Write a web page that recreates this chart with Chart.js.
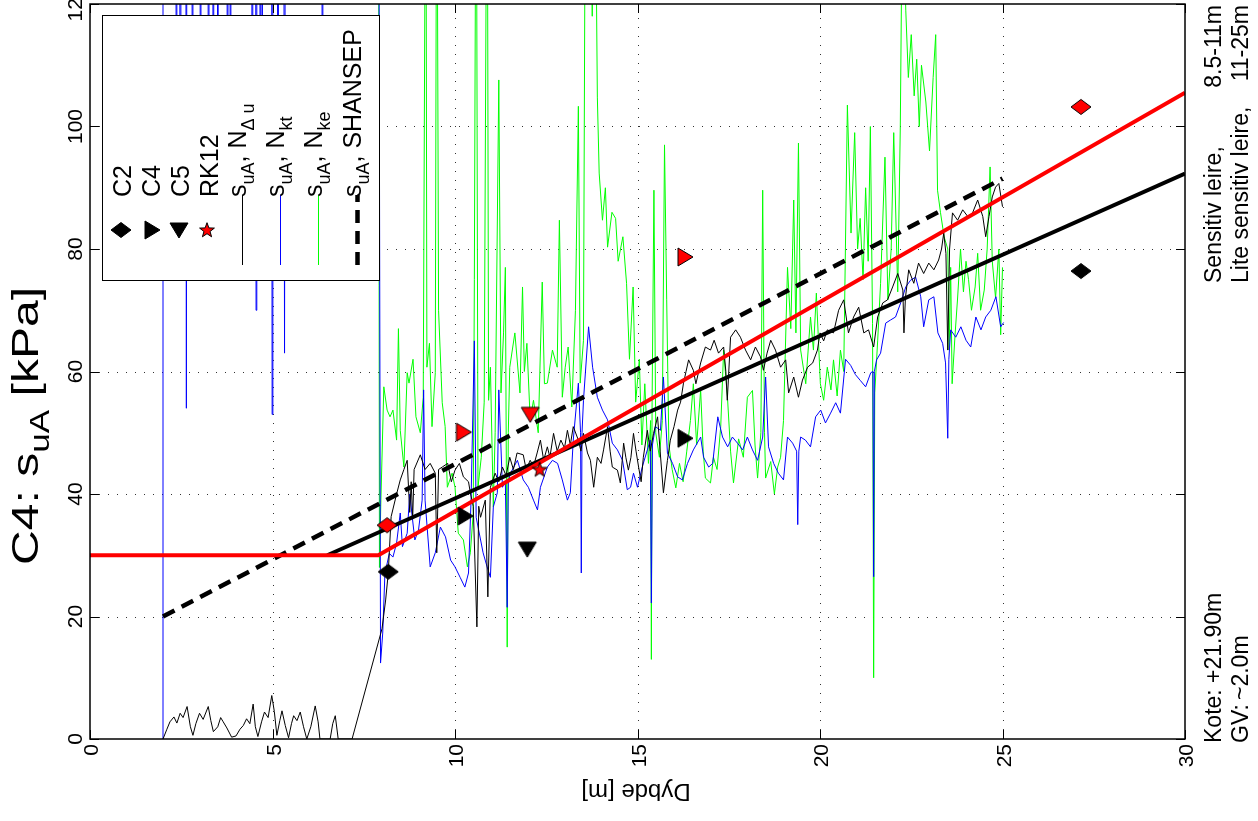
<!DOCTYPE html>
<html>
<head>
<meta charset="utf-8">
<script src="https://cdn.jsdelivr.net/npm/chart.js@4.4.1/dist/chart.umd.min.js"></script>
<style>
  html, body { margin: 0; padding: 0; background: #fff; }
  #wrap { width: 1258px; height: 821px; }
</style>
</head>
<body>
<div id="wrap"><canvas id="c" width="1258" height="821"></canvas></div>
<script>
// akser
const xTicks = [0, 5, 10, 15, 20, 25, 30];
const xTickLabels = ['0', '5', '10', '15', '20', '25', '30'];
const yTicks = [0, 20, 40, 60, 80, 100, 120];
const yTickLabels = ['0', '20', '40', '60', '80', '100', '120'];

// s_uA, N_du  [dybde, kPa]
const nduPoints = [[2.0,0],[2.1,1.5],[2.19,2.8],[2.3,3.6],[2.38,2.6],[2.47,4.2],[2.55,3.5],[2.66,5.3],[2.75,2.0],[2.82,0.6],[2.9,2.5],[3.0,4.2],[3.1,3.2],[3.24,5.3],[3.31,3.0],[3.38,1.2],[3.5,2.0],[3.58,3.5],[3.65,2.8],[3.75,1.8],[3.88,0.3],[4.0,0.5],[4.11,1.6],[4.2,2.2],[4.29,3.3],[4.38,2.5],[4.47,5.7],[4.53,2.0],[4.6,0.4],[4.7,2.8],[4.78,4.4],[4.88,3.5],[4.98,7.1],[5.05,4.5],[5.12,0.6],[5.2,3.0],[5.26,4.6],[5.35,2.2],[5.44,0.2],[5.52,2.5],[5.58,3.8],[5.67,3.0],[5.76,4.4],[5.85,2.0],[5.94,0],[6.05,2.0],[6.17,5.4],[6.25,2.8],[6.3,0],[6.58,0],[6.65,2.5],[6.72,3.8],[6.8,0],[7.18,0],[8.0,18],[8.1,22.7],[8.17,27],[8.25,36.3],[8.4,40],[8.5,42.3],[8.6,44],[8.69,45.5],[8.76,37],[8.8,42],[8.84,36],[8.88,44],[9.05,46.4],[9.18,44],[9.32,45],[9.46,43.4],[9.5,30.4],[9.55,44],[9.65,44.4],[9.8,45],[9.9,42],[10.0,43.9],[10.12,45],[10.23,42.8],[10.37,42],[10.42,40.2],[10.5,38],[10.6,18.3],[10.65,38],[10.7,36.2],[10.83,39],[10.9,23.2],[10.97,41.1],[11.1,43.4],[11.2,42],[11.3,44.4],[11.4,43],[11.5,46],[11.6,44],[11.7,46.7],[11.87,46.4],[11.95,44],[12.06,45.5],[12.15,44.5],[12.25,46.7],[12.34,48.8],[12.43,45.5],[12.53,47.7],[12.6,46],[12.7,49.9],[12.8,47],[12.9,48.8],[13.0,47.5],[13.08,50.4],[13.16,48],[13.24,51],[13.38,48.8],[13.45,47],[13.52,49.9],[13.63,46.7],[13.71,45.5],[13.8,41.1],[13.9,46],[14.0,45],[14.07,47.2],[14.18,51],[14.25,47],[14.31,44.4],[14.45,43.9],[14.53,41.8],[14.62,48.3],[14.68,46],[14.75,43.9],[14.82,46],[14.89,49.9],[14.96,47],[15.03,44.4],[15.1,42],[15.16,46],[15.27,50.4],[15.35,47],[15.44,49.9],[15.55,52.6],[15.62,47],[15.71,40.2],[15.82,45.5],[15.9,48.8],[16.0,51],[16.1,53.7],[16.18,55],[16.26,58.1],[16.33,60],[16.4,61.9],[16.53,60.2],[16.6,58],[16.73,61.4],[16.86,64],[17.0,63.5],[17.1,65.1],[17.22,63],[17.36,64],[17.42,60],[17.46,55.3],[17.55,65.6],[17.69,66.8],[17.82,65.6],[17.96,63.5],[18.1,61.9],[18.23,64],[18.37,62.4],[18.45,60.2],[18.55,63],[18.65,65.1],[18.78,63.5],[18.92,60.7],[19.06,61.9],[19.14,56.5],[19.28,59.1],[19.41,55.8],[19.52,58.6],[19.66,60.7],[19.8,61.4],[19.93,63.5],[20.0,66.3],[20.1,65],[20.2,66.8],[20.37,66.3],[20.51,70],[20.65,71.7],[20.78,66.3],[20.92,68.9],[21.06,70.5],[21.2,66.3],[21.33,66.8],[21.47,64],[21.58,68.9],[21.72,71.2],[21.85,71.7],[21.99,73.8],[22.13,76],[22.27,73.3],[22.3,66.3],[22.34,72],[22.43,76.6],[22.57,74.4],[22.7,77.7],[22.84,76],[22.98,77.7],[23.12,76.6],[23.25,78.2],[23.33,80],[23.39,82.6],[23.45,79.3],[23.5,63.5],[23.55,80],[23.63,85.9],[23.77,84.7],[23.91,86.4],[24.05,85.3],[24.18,85.9],[24.32,88],[24.46,85.3],[24.54,82],[24.63,85.3],[24.72,88.5],[24.81,90.1],[24.9,90.7],[25.0,86.9]];

// s_uA, N_kt
const nktPoints = [[2.0,0],[2.0,180],[2.34,180],[2.36,112],[2.38,180],[2.45,180],[2.47,77],[2.49,180],[2.62,180],[2.64,54],[2.66,180],[2.78,180],[2.8,110],[2.82,180],[3.0,180],[3.02,113],[3.04,180],[3.22,180],[3.24,108],[3.26,180],[3.35,180],[3.37,112],[3.39,180],[3.48,180],[3.5,115],[3.52,180],[3.74,180],[3.76,110],[3.78,180],[3.82,180],[3.84,114],[3.86,180],[4.42,180],[4.44,100],[4.46,180],[4.53,180],[4.55,70],[4.57,180],[4.64,180],[4.66,108],[4.68,180],[4.7,180],[4.72,112],[4.74,180],[4.97,180],[4.99,53],[5.01,180],[5.13,180],[5.15,110],[5.17,180],[5.3,180],[5.33,63],[5.36,180],[6.34,180],[6.36,112],[6.38,180],[7.9,180],[7.96,12.4],[8.02,17.3],[8.08,27],[8.2,30.3],[8.3,29.7],[8.4,32],[8.5,36.9],[8.56,31.4],[8.69,33.6],[8.76,40],[8.83,36.2],[8.9,32.5],[9.0,34.1],[9.1,39],[9.14,57],[9.18,39],[9.32,28.1],[9.46,30.4],[9.6,34.6],[9.74,33],[9.88,29.2],[10.0,28.1],[10.14,26.4],[10.27,24.8],[10.37,27.1],[10.44,39],[10.53,65],[10.58,36.2],[10.77,30.4],[10.88,28.1],[10.97,26.4],[11.05,37.9],[11.16,40.2],[11.2,57],[11.3,41.1],[11.38,42],[11.43,21.5],[11.46,42],[11.52,43.4],[11.71,45.5],[11.87,42.3],[12.01,41.1],[12.15,39],[12.26,37.4],[12.34,41.1],[12.53,44.4],[12.67,45.5],[12.81,45],[12.94,42.3],[13.08,39],[13.16,40.2],[13.24,48.8],[13.38,58.1],[13.44,50],[13.46,27.1],[13.48,50],[13.52,55.3],[13.66,67.3],[13.77,60.7],[13.9,55.8],[14.04,53.7],[14.18,52.1],[14.31,48.3],[14.45,47.2],[14.59,45.5],[14.72,40.7],[14.81,41.1],[14.89,43.4],[15.0,41.1],[15.13,44.4],[15.27,47.2],[15.35,48.8],[15.38,22.2],[15.41,48],[15.49,51],[15.63,50.4],[15.71,59.1],[15.82,46.7],[15.96,45],[16.1,42.8],[16.23,42.3],[16.37,45],[16.53,47.2],[16.73,49.3],[16.81,46],[16.95,44.4],[17.06,45],[17.2,52.6],[17.33,49.3],[17.47,47.7],[17.6,49.3],[17.74,48.3],[17.88,47.2],[18.01,49.3],[18.15,47.2],[18.29,45.5],[18.43,49.3],[18.51,59.1],[18.59,47.7],[18.73,45],[18.86,43.4],[19.0,42.3],[19.11,49.3],[19.25,48.3],[19.36,47],[19.39,35],[19.42,47],[19.47,49.3],[19.6,48.8],[19.74,47.7],[19.88,52.6],[20.02,53.7],[20.15,51.6],[20.29,53.2],[20.43,54.9],[20.56,53.2],[20.7,62],[20.84,61],[20.97,59.5],[21.11,58.5],[21.25,57.5],[21.39,59.8],[21.45,60],[21.47,26.5],[21.49,60],[21.55,61.9],[21.66,63],[21.8,67.9],[21.93,68.4],[22.07,68.9],[22.21,71.2],[22.35,73.8],[22.48,74.9],[22.62,75.4],[22.76,72.2],[22.84,67.3],[22.98,71.7],[23.12,72.2],[23.23,66.3],[23.36,64.6],[23.44,61.4],[23.5,49.1],[23.53,62],[23.58,66.8],[23.72,65.6],[23.86,67.3],[24.0,65.1],[24.13,64],[24.27,68.9],[24.41,66.8],[24.54,68.9],[24.68,70],[24.82,72.2],[24.95,67.3],[25.03,68]];

// s_uA, N_ke
const nkePoints = [[7.9,180],[7.93,28],[7.97,39],[8.05,57.5],[8.14,53.7],[8.22,52.6],[8.3,53.7],[8.4,48.8],[8.45,67],[8.5,50.4],[8.6,44.4],[8.69,59.8],[8.74,58.1],[8.85,62],[8.93,52.6],[9.05,50],[9.13,55.8],[9.2,160],[9.23,60.7],[9.3,64.6],[9.37,51],[9.46,59.8],[9.5,160],[9.55,70],[9.65,54.9],[9.73,51],[9.79,41.1],[9.92,43.4],[10.0,41.1],[10.09,33.6],[10.23,32.5],[10.34,28.1],[10.42,30.4],[10.5,36.9],[10.53,75],[10.58,160],[10.63,41.1],[10.72,46],[10.8,55],[10.88,160],[10.92,55.3],[10.97,60.7],[11.05,37.9],[11.1,50],[11.2,107.6],[11.26,56.5],[11.33,66.3],[11.38,77],[11.41,40],[11.43,15],[11.46,50],[11.5,60.7],[11.64,66.3],[11.78,56.5],[11.85,73.8],[11.9,60],[11.97,64.6],[12.06,52.1],[12.15,55.3],[12.28,50],[12.39,74.6],[12.45,58],[12.53,58.1],[12.67,63.5],[12.8,60.7],[12.86,84.7],[12.94,55.8],[13.02,60.7],[13.1,64],[13.2,54.2],[13.3,70],[13.38,103.3],[13.43,58.1],[13.52,65.1],[13.58,160],[13.64,125],[13.7,160],[13.76,118],[13.82,160],[13.9,104.8],[13.95,92.4],[14.04,84.7],[14.12,90],[14.18,80.3],[14.3,86],[14.4,85],[14.47,78],[14.6,82],[14.7,74.4],[14.78,62],[14.88,73.8],[14.95,55],[15.05,62],[15.12,48],[15.2,58],[15.3,45],[15.36,52],[15.38,13],[15.4,55],[15.45,89.6],[15.5,50],[15.6,46],[15.68,52],[15.74,97],[15.8,71.7],[15.86,48],[15.95,44],[16.05,41],[16.15,45],[16.25,42],[16.35,47],[16.45,52],[16.53,58],[16.62,48],[16.73,57],[16.8,47],[16.86,42.6],[17.0,41.8],[17.08,46],[17.18,44],[17.28,51],[17.36,63.5],[17.47,55.3],[17.55,47],[17.63,41.8],[17.77,49],[17.9,46],[18.01,55.8],[18.15,56.9],[18.22,48],[18.29,42.6],[18.38,50],[18.43,89.6],[18.48,50],[18.51,42.6],[18.65,45.3],[18.75,40],[18.84,44.4],[18.92,46],[19.0,52],[19.11,77],[19.2,67],[19.28,88],[19.34,66.3],[19.41,97.3],[19.47,63.5],[19.61,58],[19.74,68.9],[19.82,63.5],[19.9,72.8],[20.01,58],[20.1,55.3],[20.2,60.7],[20.3,57],[20.37,61.9],[20.47,56],[20.56,63.5],[20.65,60],[20.75,103.5],[20.85,82.6],[20.95,99],[21.03,80],[21.1,85],[21.18,75],[21.25,90],[21.32,78],[21.38,100],[21.44,67.8],[21.47,10],[21.5,56.5],[21.58,65],[21.66,74.4],[21.78,95],[21.86,71.7],[21.95,80],[22.02,99],[22.13,73],[22.2,100],[22.26,140],[22.35,119],[22.42,108],[22.5,115],[22.58,105],[22.65,111],[22.72,100],[22.78,110],[22.9,104],[23.0,96],[23.1,108],[23.17,115],[23.22,89.6],[23.3,86],[23.4,82],[23.5,80],[23.54,63.5],[23.58,77],[23.62,58],[23.7,66],[23.77,72],[23.85,80],[23.93,73],[24.0,78],[24.07,75],[24.15,70],[24.25,73.8],[24.32,79.3],[24.4,70],[24.5,73.3],[24.58,80],[24.66,93.4],[24.72,78],[24.81,72],[24.9,80],[24.95,66],[25.0,77]];

// tilpassede linjer
const redLine = [[0,30],[7.9,30],[30,105.5]];
const blackLine = [[6.5,30],[30,92.3]];
const shansepLine = [[2.0,20],[25.0,91.5]];

// laboratorieverdier
const c2Black = [[8.17,27.3],[27.15,76.4]];
const c2Red = [[8.14,34.9],[27.15,103.2]];
const c4Black = [[10.28,36.4],[16.3,49.1]];
const c4Red = [[10.23,50.1],[16.3,78.7]];
const c5Black = [[11.98,31]];
const c5Red = [[12.06,53]];
const rk12 = [[12.32,44]];

const FONT = '"Liberation Sans", Arial, Helvetica, sans-serif';
const toXY = arr => arr.map(p => ({ x: p[0], y: p[1] }));

function makeMarker(shape, fill) {
    const c = document.createElement('canvas');
    c.width = 24; c.height = 24;
    const g = c.getContext('2d');
    g.fillStyle = fill;
    g.strokeStyle = '#000';
    g.lineWidth = 1;
    g.beginPath();
    if (shape === 'diamond') {
        g.moveTo(2, 12); g.lineTo(12, 4.5); g.lineTo(22, 12); g.lineTo(12, 19.5);
    } else if (shape === 'right') {
        g.moveTo(5, 3); g.lineTo(20, 12); g.lineTo(5, 21);
    } else if (shape === 'down') {
        g.moveTo(3, 5); g.lineTo(21, 5); g.lineTo(12, 20);
    } else {
        for (let i = 0; i < 10; i++) {
            const r = i % 2 ? 3.2 : 7.8;
            const a = -Math.PI / 2 + i * Math.PI / 5;
            const px = 12 + r * Math.cos(a), py = 12.5 + r * Math.sin(a);
            if (i === 0) g.moveTo(px, py); else g.lineTo(px, py);
        }
    }
    g.closePath();
    g.fill();
    g.stroke();
    return c;
}

const mk = {
    c2b: makeMarker('diamond', '#000'), c2r: makeMarker('diamond', '#ff0000'),
    c4b: makeMarker('right', '#000'), c4r: makeMarker('right', '#ff0000'),
    c5b: makeMarker('down', '#000'), c5r: makeMarker('down', '#ff0000'),
    star: makeMarker('star', '#ff0000')
};

// tekst med senket skrift, rotert (stretch = strekk langs teksten)
function drawParts(ctx, parts, x, y, ang, align, size, stretch) {
    ctx.save();
    ctx.translate(x, y);
    ctx.rotate(ang);
    if (stretch) ctx.scale(stretch, 1);
    ctx.textAlign = 'left';
    ctx.textBaseline = 'alphabetic';
    ctx.fillStyle = '#000';
    let w = 0;
    parts.forEach(p => {
        ctx.font = (p[1] ? Math.round(size * 0.72) : size) + 'px ' + FONT;
        w += ctx.measureText(p[0]).width;
    });
    let cx = align === 'center' ? -w / 2 : (align === 'right' ? -w : 0);
    parts.forEach(p => {
        ctx.font = (p[1] ? Math.round(size * 0.72) : size) + 'px ' + FONT;
        ctx.fillText(p[0], cx, p[1] ? size * 0.3 : 0);
        cx += ctx.measureText(p[0]).width;
    });
    ctx.restore();
}

const UP = -Math.PI / 2;

const figurePlugin = {
    id: 'figure',
    beforeDatasetsDraw(chart) {
        const { ctx, chartArea: a, scales: { x, y } } = chart;
        ctx.save();
        ctx.strokeStyle = '#333';
        ctx.lineWidth = 1;
        ctx.setLineDash([1, 8]);
        xTicks.slice(1, -1).forEach(t => {
            const p = Math.round(x.getPixelForValue(t)) + 0.5;
            ctx.beginPath(); ctx.moveTo(p, a.bottom); ctx.lineTo(p, a.top); ctx.stroke();
        });
        yTicks.slice(1, -1).forEach(t => {
            const p = Math.round(y.getPixelForValue(t)) + 0.5;
            ctx.beginPath(); ctx.moveTo(a.left, p); ctx.lineTo(a.right, p); ctx.stroke();
        });
        ctx.restore();
    },
    afterDatasetsDraw(chart) {
        const { ctx, chartArea: a, scales: { x, y } } = chart;
        ctx.save();
        // ramme og tikker
        ctx.strokeStyle = '#000';
        ctx.lineWidth = 1.5;
        ctx.strokeRect(a.left, a.top, a.right - a.left, a.bottom - a.top);
        ctx.lineWidth = 1;
        xTicks.forEach(t => {
            const p = Math.round(x.getPixelForValue(t)) + 0.5;
            ctx.beginPath();
            ctx.moveTo(p, a.bottom); ctx.lineTo(p, a.bottom - 9);
            ctx.moveTo(p, a.top); ctx.lineTo(p, a.top + 9);
            ctx.stroke();
        });
        yTicks.forEach(t => {
            const p = Math.round(y.getPixelForValue(t)) + 0.5;
            ctx.beginPath();
            ctx.moveTo(a.left, p); ctx.lineTo(a.left + 9, p);
            ctx.moveTo(a.right, p); ctx.lineTo(a.right - 9, p);
            ctx.stroke();
        });

        // forklaring (rotert)
        ctx.fillStyle = '#fff';
        ctx.fillRect(102.5, 15.5, 277, 265);
        ctx.strokeStyle = '#000';
        ctx.lineWidth = 1;
        ctx.strokeRect(102.5, 15.5, 277, 265);

        ctx.drawImage(mk.c2b, 121 - 12, 230 - 12);
        ctx.drawImage(mk.c4b, 152 - 12, 230 - 12);
        ctx.drawImage(mk.c5b, 179 - 12, 230 - 12);
        ctx.drawImage(mk.star, 207 - 12, 230 - 12);

        const samples = [[242, '#000', 1, []], [280, '#0000ff', 1, []], [318, '#00ff00', 1, []], [357, '#000', 4.5, [13, 8]]];
        samples.forEach(s => {
            ctx.strokeStyle = s[1];
            ctx.lineWidth = s[2];
            ctx.setLineDash(s[3]);
            ctx.beginPath(); ctx.moveTo(s[0] + 0.5, 265); ctx.lineTo(s[0] + 0.5, 195); ctx.stroke();
        });
        ctx.setLineDash([]);

        const LS = 25;
        drawParts(ctx, [['C2', 0]], 131, 197, UP, 'left', LS);
        drawParts(ctx, [['C4', 0]], 160, 197, UP, 'left', LS);
        drawParts(ctx, [['C5', 0]], 189, 197, UP, 'left', LS);
        drawParts(ctx, [['RK12', 0]], 218, 197, UP, 'left', LS);
        drawParts(ctx, [['s', 0], ['uA', 1], [', N', 0], ['\u0394 u', 1]], 246, 197, UP, 'left', LS);
        drawParts(ctx, [['s', 0], ['uA', 1], [', N', 0], ['kt', 1]], 284, 197, UP, 'left', LS);
        drawParts(ctx, [['s', 0], ['uA', 1], [', N', 0], ['ke', 1]], 322, 197, UP, 'left', LS);
        drawParts(ctx, [['s', 0], ['uA', 1], [', SHANSEP', 0]], 361, 197, UP, 'left', LS);
        ctx.restore();
    },
    afterDraw(chart) {
        const { ctx, scales: { x, y } } = chart;
        ctx.save();
        const TS = 21;
        yTicks.forEach((t, i) => {
            drawParts(ctx, [[yTickLabels[i], 0]], 82, y.getPixelForValue(t), UP, 'center', TS);
        });
        xTicks.forEach((t, i) => {
            drawParts(ctx, [[xTickLabels[i], 0]], x.getPixelForValue(t) + 8, 744, UP, 'right', TS);
        });
        // aksetitler
        drawParts(ctx, [['C4: s', 0], ['uA', 1], [' [kPa]', 0]], 38, 565, UP, 'left', 37, 1.3);
        drawParts(ctx, [['Dybde [m]', 0]], 636, 784, Math.PI, 'center', 24);
        // tekst til høyre
        const RS = 23;
        drawParts(ctx, [['Sensitiv leire,', 0]], 1221, 283, UP, 'left', RS);
        drawParts(ctx, [['8.5-11m', 0]], 1221, 5, UP, 'right', RS);
        drawParts(ctx, [['Lite sensitiv leire,', 0]], 1248, 283, UP, 'left', RS);
        drawParts(ctx, [['11-25m', 0]], 1248, 5, UP, 'right', RS);
        drawParts(ctx, [['Kote: +21.90m', 0]], 1221, 743, UP, 'left', RS);
        drawParts(ctx, [['GV:', 0]], 1248, 743, UP, 'left', RS);
        drawParts(ctx, [['~2.0m', 0]], 1248, 700, UP, 'left', RS);
        ctx.restore();
    }
};

const lineSet = (pts, color, width, order, dash) => ({
    type: 'line', data: toXY(pts), borderColor: color, borderWidth: width,
    borderDash: dash || [], pointRadius: 0, fill: false, order: order, clip: 0
});
const markSet = (pts, img) => ({
    type: 'scatter', data: toXY(pts), pointStyle: img, pointRadius: 12,
    showLine: false, order: 0, clip: false
});

new Chart(document.getElementById('c'), {
    type: 'line',
    data: {
        datasets: [
            markSet(c2Black, mk.c2b), markSet(c2Red, mk.c2r),
            markSet(c4Black, mk.c4b), markSet(c4Red, mk.c4r),
            markSet(c5Black, mk.c5b), markSet(c5Red, mk.c5r),
            markSet(rk12, mk.star),
            lineSet(redLine, '#ff0000', 4, 1),
            lineSet(blackLine, '#000', 4, 2),
            lineSet(shansepLine, '#000', 4.5, 3, [13, 8]),
            lineSet(nduPoints, '#000', 1, 4),
            lineSet(nktPoints, '#0000ff', 1, 5),
            lineSet(nkePoints, '#00ff00', 1, 6)
        ]
    },
    options: {
        responsive: false,
        animation: false,
        devicePixelRatio: 1,
        layout: { autoPadding: false, padding: { left: 90, right: 73, top: 4, bottom: 82 } },
        plugins: { legend: { display: false }, tooltip: { enabled: false } },
        elements: { line: { tension: 0 } },
        scales: {
            x: { type: 'linear', min: 0, max: 30, display: false },
            y: { type: 'linear', min: 0, max: 120, display: false }
        }
    },
    plugins: [figurePlugin]
});
</script>
</body>
</html>
